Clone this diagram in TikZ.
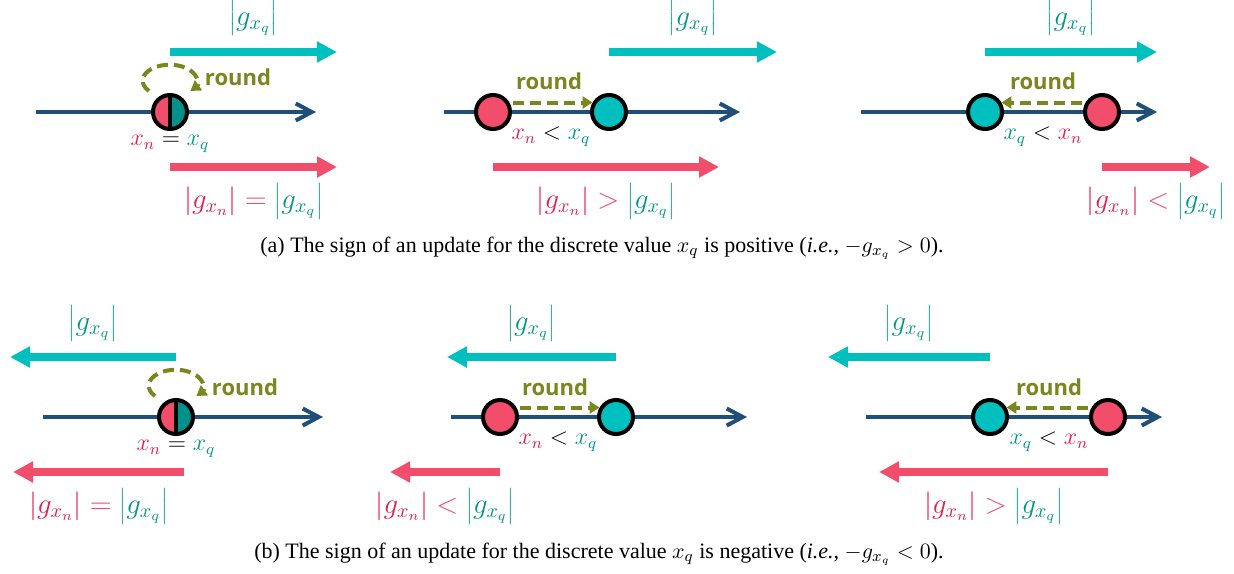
\documentclass[tikz,border=0pt]{standalone}
\usepackage{fontspec}
\setmainfont{Liberation Serif}
\newfontfamily\roundfont{Open Sans}
\usetikzlibrary{arrows.meta,positioning}
\definecolor{cyanarr}{RGB}{0,191,191}
\definecolor{redarr}{RGB}{242,77,106}
\definecolor{redtxt}{RGB}{228,30,75}
\definecolor{tealtxt}{RGB}{0,150,140}
\definecolor{tealhalf}{RGB}{0,145,138}
\definecolor{navyaxis}{RGB}{31,78,121}
\definecolor{roundolive}{RGB}{122,134,30}
\newcommand{\valn}{\textcolor{redtxt}{x_n}}
\newcommand{\valq}{\textcolor{tealtxt}{x_q}}
\newcommand{\absgn}{\textcolor{redtxt}{\left|g_{x_n}\right|}}
\newcommand{\absgq}{\textcolor{tealtxt}{\left|g_{x_q}\right|}}

\begin{document}
\begin{tikzpicture}[x=0.5pt,y=-0.5pt,
    axisline/.style={navyaxis, line width=2pt, -{Straight Barb[length=8pt,width=8.5pt]}},
    cyanarrow/.style={cyanarr, line width=4pt, -{Triangle[length=10pt,width=10pt]}},
    redarrow/.style={redarr, line width=4pt, -{Triangle[length=10pt,width=10pt]}},
    pointnode/.style={circle, draw=black, line width=2pt, minimum size=17pt, inner sep=0pt},
    nnode/.style={pointnode, fill=redarr},
    qnode/.style={pointnode, fill=cyanarr},
    splitnode/.style={pointnode, path picture={
        \fill[redarr] (path picture bounding box.south west) rectangle (path picture bounding box.north);
        \fill[tealhalf] (path picture bounding box.south) rectangle (path picture bounding box.north east);
        \draw[black, line width=2pt] (path picture bounding box.south) -- (path picture bounding box.north);}},
    roundline/.style={roundolive, line width=2pt, dash pattern=on 5.5pt off 3pt, -{Triangle[length=5pt,width=6pt]}},
    roundlabel/.style={text=roundolive, font=\roundfont\bfseries\fontsize{11}{12}\selectfont},
    mathlabel/.style={font=\fontsize{14}{16}\selectfont, inner sep=1pt},
    pointlabel/.style={font=\fontsize{12}{14}\selectfont, inner sep=1pt},
    captionlabel/.style={font=\fontsize{11}{13}\selectfont}]
\useasboundingbox (0,0) rectangle (1234,573);

% (a) positive sign, equal values
\coordinate (a1s) at (36,112);
\coordinate (a1e) at (316,112);
\draw[axisline] (a1s) -- (a1e);
\node[splitnode] (a1p) at (170,112) {};
\draw[roundline] ([shift={(-21,-21)}]a1p.center) arc[start angle=140, end angle=400, x radius=27, y radius=16];
\node[roundlabel] (a1r) at (238,77) {round};
\node[pointlabel] (a1l) at (170,144) {$\valn = \valq$};
\coordinate (a1q) at (337,52);
\draw[cyanarrow] (a1p |- a1q) -- (a1q) node[midway, above=5pt, mathlabel] (a1gq) {$\absgq$};
\coordinate (a1n) at (337,167);
\draw[redarrow] (a1p |- a1n) -- (a1n) node[midway, below=5pt, mathlabel] (a1gn) {$\absgn = \absgq$};

% (a) positive sign, x_n below x_q
\coordinate (a2s) at (444,112);
\coordinate (a2e) at (740,112);
\draw[axisline] (a2s) -- (a2e);
\node[nnode] (a2n) at (493,112) {};
\node[qnode] (a2q) at (609,112) {};
\draw[roundline, shorten <=2pt] (a2n.30) -- (a2q.150);
\node[roundlabel] (a2r) at (549,81) {round};
\node[pointlabel] (a2l) at (551,137) {$\valn < \valq$};
\coordinate (a2qe) at (777,52);
\draw[cyanarrow] (a2q |- a2qe) -- (a2qe) node[midway, above=5pt, mathlabel] (a2gq) {$\absgq$};
\coordinate (a2ne) at (719,167);
\draw[redarrow] (a2n |- a2ne) -- (a2ne) node[midway, below=5pt, mathlabel] (a2gn) {$\absgn > \absgq$};

% (a) positive sign, x_q below x_n
\coordinate (a3s) at (861,112);
\coordinate (a3e) at (1157,112);
\draw[axisline] (a3s) -- (a3e);
\node[qnode] (a3q) at (985,112) {};
\node[nnode] (a3n) at (1102,112) {};
\draw[roundline, shorten <=2pt] (a3n.150) -- (a3q.30);
\node[roundlabel] (a3r) at (1043,81) {round};
\node[pointlabel] (a3l) at (1043,137) {$\valq < \valn$};
\coordinate (a3qe) at (1157,52);
\draw[cyanarrow] (a3q |- a3qe) -- (a3qe) node[midway, above=5pt, mathlabel] (a3gq) {$\absgq$};
\coordinate (a3ne) at (1210,167);
\draw[redarrow] (a3n |- a3ne) -- (a3ne) node[midway, below=5pt, mathlabel] (a3gn) {$\absgn < \absgq$};

\node[captionlabel] (capa) at (602,248) {(a) The sign of an update for the discrete value $x_q$ is positive (\textit{i.e.}, $-g_{x_q} > 0$).};

% (b) negative sign, equal values
\coordinate (b1s) at (43,417);
\coordinate (b1e) at (323,417);
\draw[axisline] (b1s) -- (b1e);
\node[splitnode] (b1p) at (176,417) {};
\draw[roundline] ([shift={(-21,-21)}]b1p.center) arc[start angle=140, end angle=400, x radius=27, y radius=16];
\node[roundlabel] (b1r) at (245,387) {round};
\node[pointlabel] (b1l) at (176,449) {$\valn = \valq$};
\coordinate (b1q) at (10,357);
\draw[cyanarrow] (b1p |- b1q) -- (b1q) node[midway, above=5pt, mathlabel] (b1gq) {$\absgq$};
\coordinate (b1n) at (13,472);
\draw[redarrow] ([xshift=4]b1p |- b1n) -- (b1n) node[midway, below=5pt, mathlabel] (b1gn) {$\absgn = \absgq$};

% (b) negative sign, x_n below x_q
\coordinate (b2s) at (451,417);
\coordinate (b2e) at (747,417);
\draw[axisline] (b2s) -- (b2e);
\node[nnode] (b2n) at (500,417) {};
\node[qnode] (b2q) at (616,417) {};
\draw[roundline, shorten <=2pt] (b2n.30) -- (b2q.150);
\node[roundlabel] (b2r) at (555,387) {round};
\node[pointlabel] (b2l) at (558,442) {$\valn < \valq$};
\coordinate (b2qe) at (447,357);
\draw[cyanarrow] (b2q |- b2qe) -- (b2qe) node[midway, above=5pt, mathlabel] (b2gq) {$\absgq$};
\coordinate (b2ne) at (390,472);
\draw[redarrow] (b2n |- b2ne) -- (b2ne) node[midway, below=5pt, mathlabel] (b2gn) {$\absgn < \absgq$};

% (b) negative sign, x_q below x_n
\coordinate (b3s) at (866,417);
\coordinate (b3e) at (1162,417);
\draw[axisline] (b3s) -- (b3e);
\node[qnode] (b3q) at (990,417) {};
\node[nnode] (b3n) at (1108,417) {};
\draw[roundline, shorten <=2pt] (b3n.150) -- (b3q.30);
\node[roundlabel] (b3r) at (1049,387) {round};
\node[pointlabel] (b3l) at (1049,442) {$\valq < \valn$};
\coordinate (b3qe) at (828,357);
\draw[cyanarrow] (b3q |- b3qe) -- (b3qe) node[midway, above=5pt, mathlabel] (b3gq) {$\absgq$};
\coordinate (b3ne) at (879,472);
\draw[redarrow] (b3n |- b3ne) -- (b3ne) node[midway, below=5pt, mathlabel] (b3gn) {$\absgn > \absgq$};

\node[captionlabel] (capb) at (599,554) {(b) The sign of an update for the discrete value $x_q$ is negative (\textit{i.e.}, $-g_{x_q} < 0$).};
\end{tikzpicture}
\end{document}
